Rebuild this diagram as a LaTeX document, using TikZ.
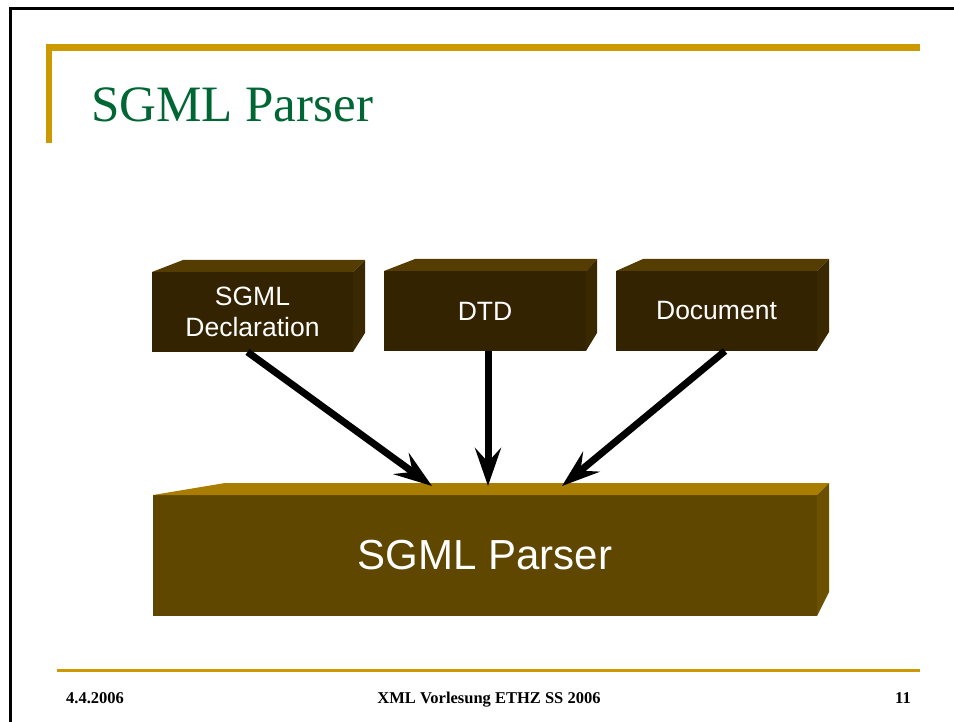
\documentclass[tikz,border=0pt]{standalone}
\usepackage{fontspec}
\setmainfont{Liberation Serif}
\newfontfamily\labelfont{Liberation Sans}
\usetikzlibrary{arrows.meta,calc}

\definecolor{slidegold}{RGB}{204,153,0}
\definecolor{titlegreen}{RGB}{0,102,51}
\definecolor{inFront}{RGB}{51,35,0}
\definecolor{inTop}{RGB}{85,60,0}
\definecolor{inSide}{RGB}{58,41,0}
\definecolor{parFront}{RGB}{95,71,0}
\definecolor{parTop}{RGB}{168,125,0}
\definecolor{parSide}{RGB}{107,80,0}

\tikzset{
  inputbox/.style={fill=inFront, draw=none, inner sep=0pt, outer sep=0pt,
    minimum height=80pt, text=white, align=center,
    font=\labelfont\fontsize{26.5}{31}\selectfont},
  parserbox/.style={fill=parFront, draw=none, inner sep=0pt, outer sep=0pt,
    minimum width=664pt, minimum height=121pt, text=white,
    font=\labelfont\fontsize{42}{50}\selectfont},
  flow/.style={line width=7pt, draw=black,
    -{Stealth[length=38pt, width=26pt, inset=14pt]}},
  footer/.style={font=\bfseries\fontsize{16.5}{18}\selectfont}
}

\begin{document}
\begin{tikzpicture}[x=1pt, y=-1pt]
\useasboundingbox (0,0) rectangle (954,722);

% slide frame
\draw[line width=2.5pt] (10.3,722) -- (10.3,8.7) -- (954,8.7);

% title bars
\fill[slidegold] (45.7,44) rectangle (920,50.7);
\fill[slidegold] (45.7,44) rectangle (52.3,143);
\node[anchor=base west, inner sep=0pt, text=titlegreen,
      font=\fontsize{51}{60}\selectfont] (title) at (91,122) {SGML Parser};

% input boxes (front faces)
\node[inputbox, minimum width=201pt] (decl) at (252.5,312) {SGML\\Declaration};
\node[inputbox, minimum width=202pt] (dtd)  at (485,311)   {DTD};
\node[inputbox, minimum width=201pt] (doc)  at (716.5,311) {Document};

% top and side faces of the input boxes
\fill[inTop]  (decl.north west) -- ++(31,-12) -- ($(decl.north east)+(12,-12)$) -- (decl.north east) -- cycle;
\fill[inSide] (decl.north east) -- ++(12,-12) -- ($(decl.south east)+(12,-19)$) -- (decl.south east) -- cycle;
\fill[inTop]  (dtd.north west) -- ++(31,-12) -- ($(dtd.north east)+(11,-12)$) -- (dtd.north east) -- cycle;
\fill[inSide] (dtd.north east) -- ++(11,-12) -- ($(dtd.south east)+(11,-18)$) -- (dtd.south east) -- cycle;
\fill[inTop]  (doc.north west) -- ++(27,-12) -- ($(doc.north east)+(12,-12)$) -- (doc.north east) -- cycle;
\fill[inSide] (doc.north east) -- ++(12,-12) -- ($(doc.south east)+(12,-19)$) -- (doc.south east) -- cycle;

% parser slab
\node[parserbox] (parser) at (485,555.5) {SGML Parser};
\fill[parTop]  (parser.north west) -- ++(72,-12) -- ($(parser.north east)+(12,-12)$) -- (parser.north east) -- cycle;
\fill[parSide] (parser.north east) -- ++(12,-12) -- ($(parser.south east)+(12,-24)$) -- (parser.south east) -- cycle;

% data flow into the parser
\coordinate (inA) at ($(parser.north)+(-53,-9)$);
\coordinate (inB) at ($(parser.north)+(3,-9)$);
\coordinate (inC) at ($(parser.north)+(77,-9)$);
\draw[flow] ($(decl.south)+(-5,0)$) -- (inA);
\draw[flow] ($(dtd.south)+(3,0)$) -- (inB);
\draw[flow] ($(doc.south)+(8.5,0)$) -- (inC);

% footer
\draw[slidegold, line width=3pt] (57,670) -- (920,670);
\node[footer, anchor=base west, inner sep=0pt] (date) at (66,703) {4.4.2006};
\node[footer, anchor=base, inner sep=0pt] (course) at (489,703) {XML Vorlesung ETHZ SS 2006};
\node[footer, anchor=base east, inner sep=0pt] (page) at (911,703) {11};
\end{tikzpicture}
\end{document}
